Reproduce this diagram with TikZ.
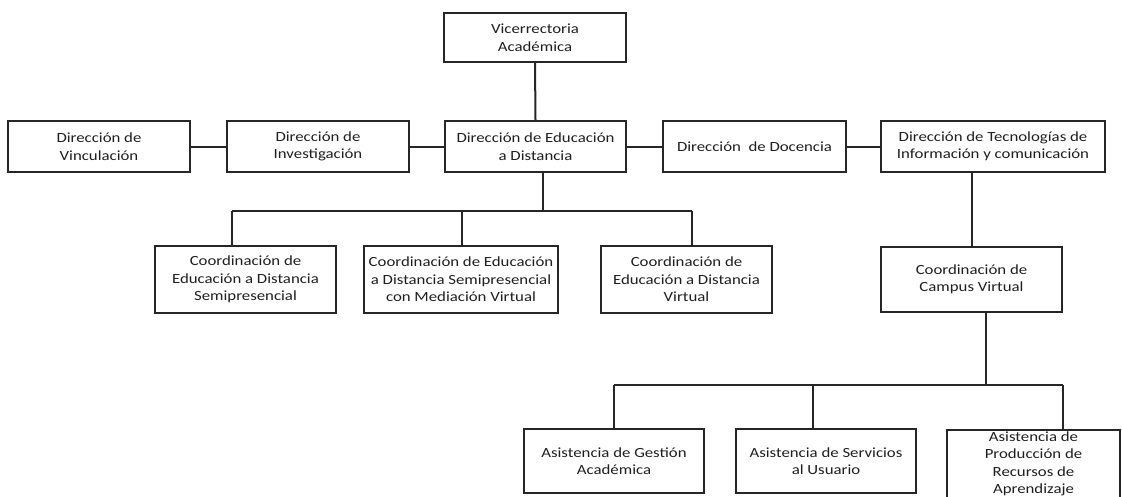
\documentclass[tikz,border=0pt]{standalone}
\usepackage{fontspec}
\setmainfont{Carlito}[FakeStretch=1.2]
\usetikzlibrary{calc}
\begin{document}
\begin{tikzpicture}[x=1pt,y=-1pt,
  box/.style={draw=black!85, line width=2pt, rectangle, inner sep=0pt, align=center,
    text=black!88, font=\fontsize{14}{17.5}\selectfont},
  conn/.style={draw=black!85, line width=2pt}]
\useasboundingbox (0,0) rectangle (1122,496);
\clip (0,0) rectangle (1122,496);
\fill[white] (0,0) rectangle (1122,496);
% row 1
\node[box, minimum width=182pt, minimum height=49pt] (vice) at (535,37.5) {Vicerrectoria\\Académica};
% row 2
\node[box, minimum width=182pt, minimum height=51pt] (vinc) at (99,146.5) {Dirección de\\Vinculación};
\node[box, minimum width=182pt, minimum height=51pt] (inv) at (318,146.5) {Dirección de\\Investigación};
\node[box, minimum width=181pt, minimum height=51pt] (edu) at (535.5,146.5) {Dirección de Educación\\a Distancia};
\node[box, minimum width=183pt, minimum height=51pt] (doc) at (754.5,146.5) {Dirección\ \ de Docencia};
\node[box, minimum width=224pt, minimum height=51pt] (tic) at (993,146.5) {Dirección de Tecnologías de\\Información y comunicación};
% row 3
\node[box, minimum width=181pt, minimum height=67pt] (c1) at (245.5,279.5) {Coordinación de\\Educación a Distancia\\Semipresencial};
\node[box, minimum width=194pt, minimum height=67pt] (c2) at (461,279.5) {Coordinación de Educación\\a Distancia Semipresencial\\con Mediación Virtual};
\node[box, minimum width=171pt, minimum height=67pt] (c3) at (686.5,279.5) {Coordinación de\\Educación a Distancia\\Virtual};
\node[box, minimum width=181pt, minimum height=65pt] (campus) at (971.5,279.5) {Coordinación de\\Campus Virtual};
% row 4
\node[box, minimum width=180pt, minimum height=64pt] (g) at (614,461) {Asistencia de Gestión\\Académica};
\node[box, minimum width=180pt, minimum height=64pt] (s) at (826,461) {Asistencia de Servicios\\al Usuario};
\node[box, minimum width=173pt, minimum height=68pt, anchor=north] (p) at (1033.5,429) {Asistencia de\\Producción de\\Recursos de\\Aprendizaje};
% connectors row 1-2
\draw[conn] (vice.south) -- (edu.north);
\draw[conn] (vinc.east) -- (inv.west);
\draw[conn] (inv.east) -- (edu.west);
\draw[conn] (edu.east) -- (doc.west);
\draw[conn] (doc.east) -- (tic.west);
% connectors to row 3
\coordinate (ja) at (543,211);
\coordinate (jl) at (232,211);
\coordinate (jm) at (462,211);
\coordinate (jr) at (692,211);
\draw[conn] (edu.south -| ja) -- (ja);
\draw[conn] (jl) -- (jr);
\draw[conn] (jl) -- (c1.north -| jl);
\draw[conn] (jm) -- (c2.north -| jm);
\draw[conn] (jr) -- (c3.north -| jr);
\draw[conn] (tic.south -| campus.north) -- (campus.north);
% connectors to row 4
\coordinate (jb) at (986,385);
\coordinate (kl) at (614,385);
\coordinate (km) at (813,385);
\coordinate (kr) at (1063,385);
\draw[conn] (campus.south -| jb) -- (jb);
\draw[conn] (kl) -- (kr);
\draw[conn] (kl) -- (g.north -| kl);
\draw[conn] (km) -- (s.north -| km);
\draw[conn] (kr) -- (p.north -| kr);
\end{tikzpicture}
\end{document}
